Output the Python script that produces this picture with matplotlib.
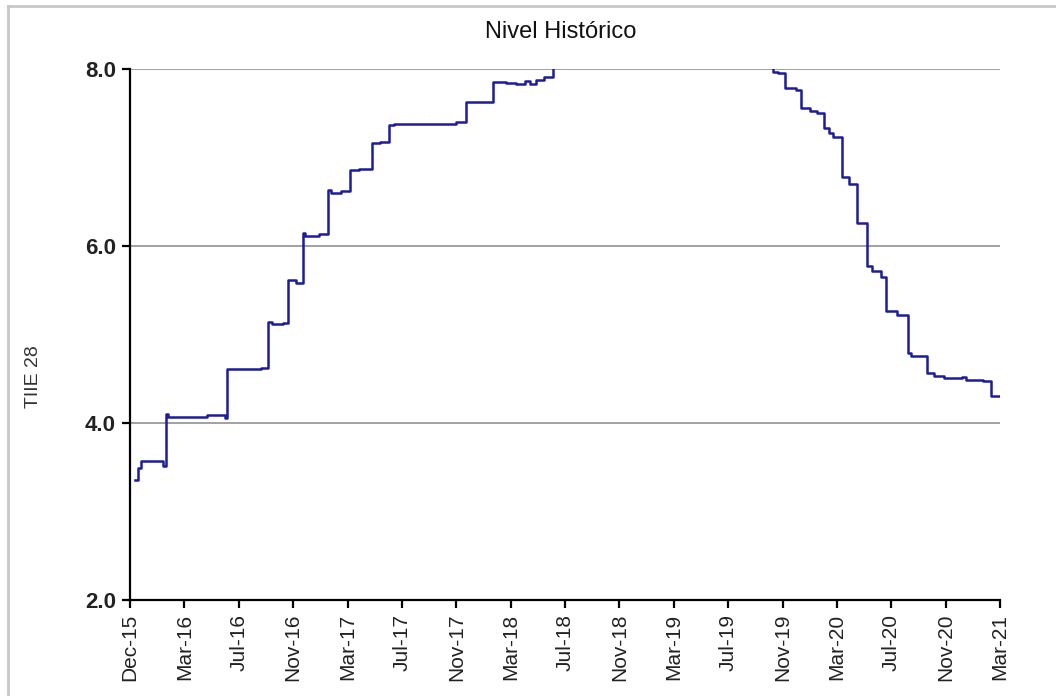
import matplotlib
matplotlib.use("Agg")
import matplotlib.pyplot as plt
import matplotlib.dates as mdates
from matplotlib.lines import Line2D
import numpy as np
import pandas as pd

plt.rcParams["font.family"] = ["Liberation Sans", "DejaVu Sans"]

# TIIE 28 (puntos de cambio, se dibuja en escalones)
fechas = [
    "2015-12-13", "2015-12-18", "2015-12-26", "2016-02-11", "2016-02-18",
    "2016-02-22", "2016-05-18", "2016-06-10", "2016-06-28", "2016-07-01",
    "2016-09-15", "2016-09-30", "2016-10-10", "2016-11-03", "2016-11-14",
    "2016-12-01", "2016-12-16", "2016-12-22", "2017-01-20", "2017-02-11",
    "2017-02-16", "2017-03-10", "2017-03-30", "2017-04-20", "2017-05-19",
    "2017-06-05", "2017-06-24", "2017-07-05", "2017-11-20", "2017-12-11",
    "2018-01-05", "2018-02-09", "2018-03-10", "2018-04-01", "2018-04-20",
    "2018-05-01", "2018-05-15", "2018-06-01", "2018-06-22", "2018-12-20",
    "2019-08-15", "2019-09-27", "2019-10-20", "2019-11-01", "2019-11-15",
    "2019-12-10", "2019-12-20", "2020-01-10", "2020-01-25", "2020-02-09",
    "2020-02-20", "2020-03-01", "2020-03-20", "2020-04-05", "2020-04-22",
    "2020-05-14", "2020-05-25", "2020-06-15", "2020-06-25", "2020-07-20",
    "2020-08-13", "2020-08-20", "2020-09-23", "2020-10-10", "2020-11-01",
    "2020-12-10", "2020-12-20", "2021-01-25", "2021-02-12", "2021-03-04",
]
tiie = [
    3.36, 3.49, 3.57, 3.51, 4.10,
    4.07, 4.09, 4.09, 4.06, 4.61,
    4.62, 5.14, 5.12, 5.13, 5.62,
    5.58, 6.15, 6.11, 6.13, 6.63,
    6.60, 6.62, 6.86, 6.87, 7.16,
    7.18, 7.37, 7.38, 7.40, 7.63,
    7.63, 7.85, 7.84, 7.83, 7.86,
    7.83, 7.88, 7.91, 8.10, 8.59,
    8.30, 8.04, 7.97, 7.95, 7.79,
    7.76, 7.56, 7.53, 7.50, 7.33,
    7.28, 7.23, 6.78, 6.70, 6.26,
    5.77, 5.72, 5.65, 5.26, 5.22,
    4.79, 4.76, 4.56, 4.53, 4.51,
    4.52, 4.49, 4.47, 4.31, 4.30,
]

x_ini = pd.Timestamp("2015-12-01")
x_fin = pd.Timestamp("2021-03-04")

fig = plt.figure(figsize=(10.56, 6.96), dpi=100)
ax = fig.add_axes([130 / 1056, 1 - 600 / 696, 870 / 1056, 531 / 696])

ax.plot(pd.to_datetime(fechas), tiie, drawstyle="steps-post", color="#1c1c9c", lw=1.8, zorder=3)

ax.set_ylim(2.0, 8.0)
ax.set_yticks([2.0, 4.0, 6.0, 8.0])
ax.set_yticklabels(["2.0", "4.0", "6.0", "8.0"], fontweight="bold", fontsize=16, color="#222222")
ax.yaxis.grid(True, color="#9a9a9a", lw=1.3)
ax.set_axisbelow(True)

ticks = np.linspace(mdates.date2num(x_ini), mdates.date2num(x_fin), 17)
ax.set_xlim(ticks[0], ticks[-1])
ax.set_xticks(ticks)
ax.set_xticklabels([mdates.num2date(t).strftime("%b-%y") for t in ticks],
                   rotation=90, fontsize=15, color="#222222")

for s in ["top", "right"]:
    ax.spines[s].set_visible(False)
for s in ["left", "bottom"]:
    ax.spines[s].set_linewidth(1.6)
    ax.spines[s].set_color("black")
ax.tick_params(axis="both", direction="out", length=6, width=1.6, pad=4)

ax.set_ylabel("TIIE 28", fontsize=14, color="#333333")
ax.yaxis.set_label_coords(-88 / 870, (600 - 377) / 531)
fig.text(561 / 1056, 1 - 32 / 696, "Nivel Histórico", fontsize=17, ha="center", va="center", color="#111111")

# marco gris de la figura
fig.add_artist(Line2D([8 / 1056, 8 / 1056], [0, 1 - 6 / 696], color="#c8c8c8", lw=2, transform=fig.transFigure))
fig.add_artist(Line2D([8 / 1056, 1], [1 - 6 / 696, 1 - 6 / 696], color="#c8c8c8", lw=2, transform=fig.transFigure))

fig.savefig("out.png", dpi=100)
